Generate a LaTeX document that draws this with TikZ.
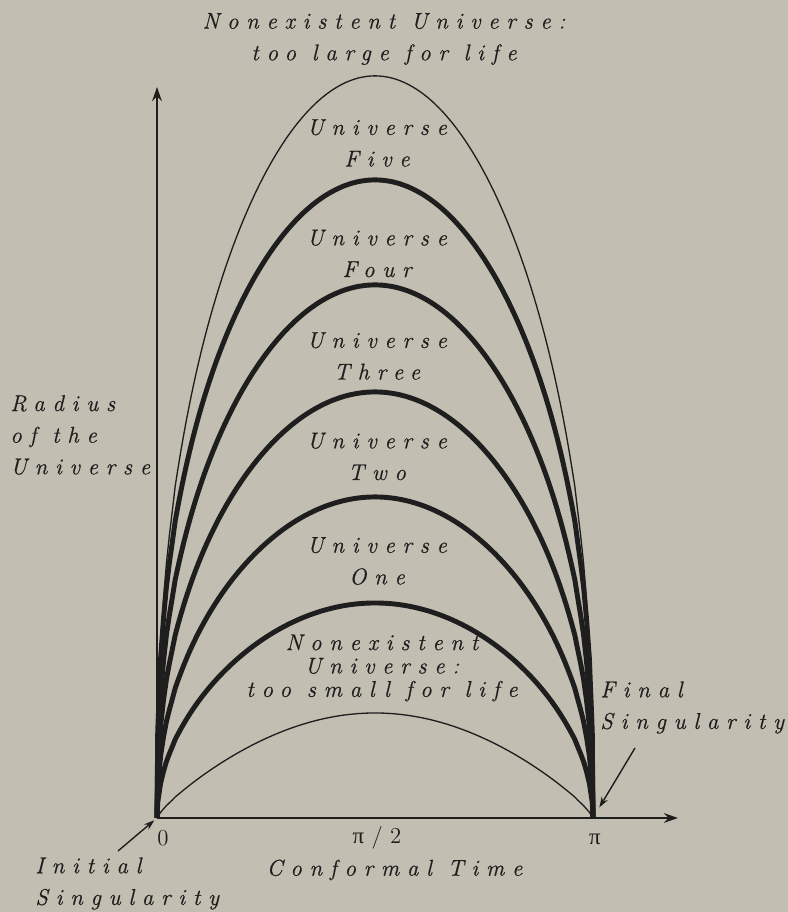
\documentclass[tikz,border=0pt]{standalone}
\usepackage{fontspec}
\usetikzlibrary{arrows.meta}
\newfontfamily\greekfont{Liberation Serif}
\newfontfamily\spaced[LetterSpace=34, FakeBold=0.5]{Latin Modern Roman}
\definecolor{paper}{RGB}{194,190,177}
\definecolor{ink}{RGB}{30,30,30}

\begin{document}
\begin{tikzpicture}[
  axis/.style={line width=1.4pt, draw=ink, -{Stealth[length=8pt, width=5.5pt]}},
  world/.style={line width=2.8pt, draw=ink, line join=round},
  edge/.style={line width=0.75pt, draw=ink},
  pointer/.style={line width=0.8pt, draw=ink, -{Stealth[length=6pt, width=4pt]}},
  lbl/.style={font=\spaced\itshape\fontsize{13}{18}\selectfont, text=ink, align=center, inner sep=0pt},
  tight/.style={lbl, font=\spaced\itshape\fontsize{13}{13.3}\selectfont},
  tick/.style={font=\fontsize{13}{15}\selectfont, text=ink, inner sep=0pt}
]
\fill[paper] (-3.14,-1.88) rectangle (12.62,16.36);
\useasboundingbox (-3.14,-1.88) rectangle (12.62,16.36);
\coordinate (origin) at (0,0);
\coordinate (pi) at (8.72,0);
\coordinate (xend) at (10.42,0);
\coordinate (yend) at (0,14.62);

% outer and inner limits
\draw[edge] (origin) -- plot[domain=0.3:179.7, samples=150] ({\x/180*8.72}, {14.84*sin(\x)^0.4}) -- (pi);
\draw[edge] (origin) -- plot[domain=0.3:179.7, samples=150] ({\x/180*8.72}, {2.1*sin(\x)^0.8}) -- (pi);
% universes one to five
\foreach \h/\q in {4.3/0.5, 6.42/0.45, 8.52/0.42, 10.66/0.4, 12.76/0.38}
  \draw[world] (origin) -- plot[domain=0.3:179.7, samples=150] ({\x/180*8.72}, {\h*sin(\x)^\q}) -- (pi);

\draw[axis] (origin) -- (xend);
\draw[axis] (origin) -- (yend);

\node[lbl] (toolarge) at (4.54,15.58) {Nonexistent Universe:\\too large for life};
\node[lbl] (five) at (4.4,13.5) {Universe\\Five};
\node[lbl] (four) at (4.4,11.29) {Universe\\Four};
\node[lbl] (three) at (4.4,9.24) {Universe\\Three};
\node[lbl] (two) at (4.4,7.23) {Universe\\Two};
\node[lbl] (one) at (4.4,5.14) {Universe\\One};
\node[tight] (toosmall) at (4.5,3.0) {Nonexistent\\Universe:\\too small for life};

\node[lbl, align=left, anchor=west] (radius) at (-2.94,7.66) {Radius\\of the\\Universe};
\node[lbl, align=left, anchor=west] (final) at (8.86,2.21) {Final\\Singularity};
\node[lbl, align=left, anchor=west] (initial) at (-2.44,-1.31) {Initial\\Singularity};
\node[lbl] (ctime) at (4.75,-1.04) {Conformal Time};

\node[tick] (zero) at (0.12,-0.4) {0};
\node[tick] (half) at (4.4,-0.4) {{\greekfont π} / 2};
\node[tick] (pilbl) at (8.76,-0.42) {\greekfont π};

\coordinate (inittail) at (-0.78,-0.66);
\coordinate (finaltail) at (9.56,1.4);
\draw[pointer, shorten >=2pt] (inittail) -- (origin);
\draw[pointer, shorten >=7pt] (finaltail) -- (pi);
\end{tikzpicture}
\end{document}
